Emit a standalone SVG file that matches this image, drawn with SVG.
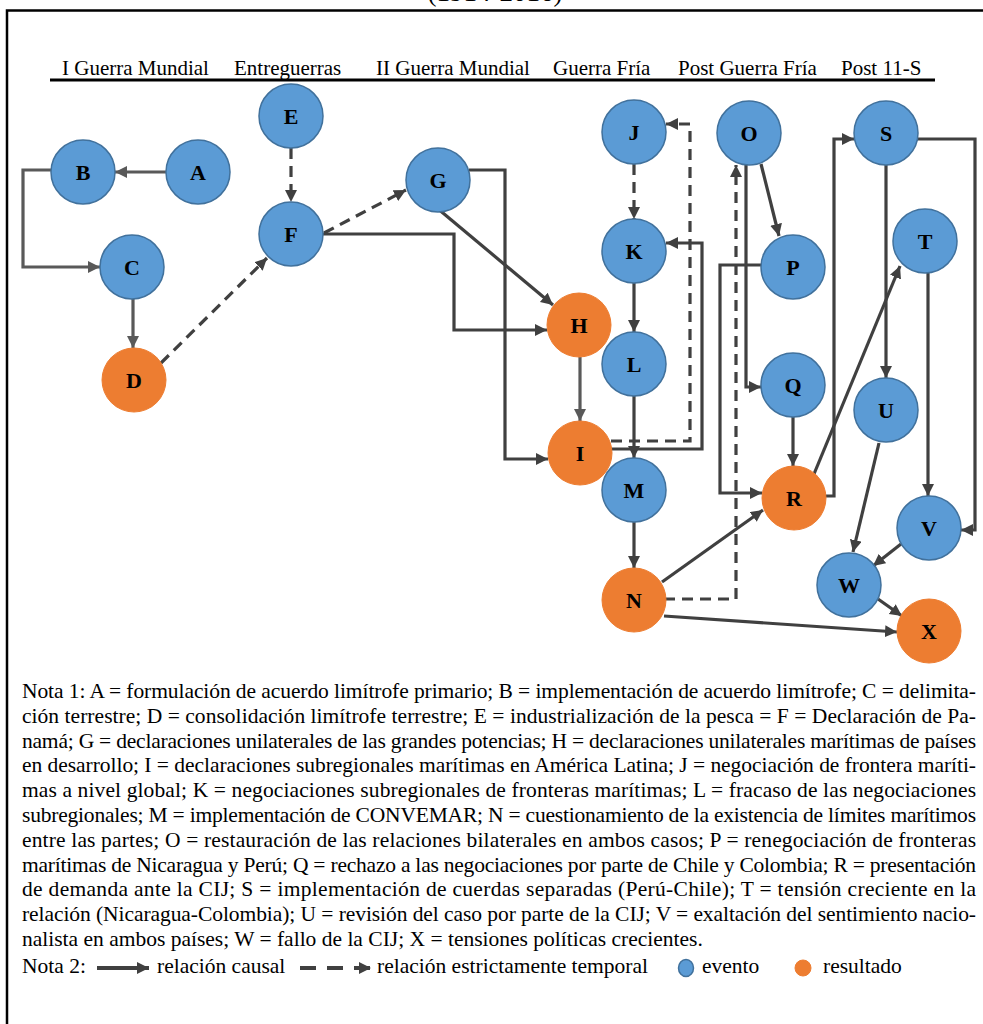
<svg xmlns="http://www.w3.org/2000/svg" width="983" height="1024" viewBox="0 0 983 1024">
<style>
.hdr{font-family:"Liberation Serif","Times New Roman",serif;font-size:21px;fill:#000}
.note{font-family:"Liberation Serif","Times New Roman",serif;font-size:21.5px;fill:#000}
.lbl{font-family:"Liberation Serif","Times New Roman",serif;font-size:22px;font-weight:bold;fill:#000;text-anchor:middle}
.ev{fill:#5B9BD5;stroke:#41719C;stroke-width:1.5}
.rs{fill:#ED7D31;stroke:#ED7D31;stroke-width:1}
.c{fill:none;stroke:#404040;stroke-width:3.2;marker-end:url(#ad)}
.cg{fill:none;stroke:#595959;stroke-width:3.2;marker-end:url(#ag)}
.d{fill:none;stroke:#404040;stroke-width:3.2;stroke-dasharray:11 7;marker-end:url(#ad)}
</style>
<defs>
<marker id="ad" markerUnits="userSpaceOnUse" markerWidth="13" markerHeight="13" refX="12" refY="6" orient="auto"><path d="M0,0 L12,6 L0,12 Z" fill="#404040"/></marker>
<marker id="ag" markerUnits="userSpaceOnUse" markerWidth="13" markerHeight="13" refX="12" refY="6" orient="auto"><path d="M0,0 L12,6 L0,12 Z" fill="#595959"/></marker>
</defs>
<rect x="0" y="0" width="983" height="1024" fill="#fff"/>
<text x="495" y="1" font-family="Liberation Serif,serif" font-size="27" text-anchor="middle">(1914-2016)</text>
<path d="M7,1026 V10.5 H985" fill="none" stroke="#000" stroke-width="2.5"/>
<g id="header">
<text class="hdr" x="62" y="75">I Guerra Mundial</text>
<text class="hdr" x="234" y="75">Entreguerras</text>
<text class="hdr" x="376" y="75">II Guerra Mundial</text>
<text class="hdr" x="553" y="75">Guerra Fría</text>
<text class="hdr" x="678" y="75">Post Guerra Fría</text>
<text class="hdr" x="841" y="75">Post 11-S</text>
<line x1="50" y1="80" x2="935" y2="80" stroke="#000" stroke-width="3"/>
</g>
<g id="connectors">
<path class="cg" d="M166,172 H115"/>
<path class="cg" d="M51,170 H23 V267 H100"/>
<path class="cg" d="M133,299 V348"/>
<path class="d" d="M161,363 L267,258"/>
<path class="d" d="M291,148 V202"/>
<path class="d" d="M324,233 L406,190"/>
<path class="c" d="M323,234 H454 V330 H547"/>
<path class="c" d="M437,208 L553,305"/>
<path class="c" d="M469,170 H505 V459 H548"/>
<path class="cg" d="M580,357 V421"/>
<path class="d" d="M634,164 V219"/>
<path class="c" d="M634,283 V332"/>
<path class="c" d="M634,396 V458"/>
<path class="c" d="M634,522 V568"/>
<path class="d" d="M611,441 H690 V124 H666"/>
<path class="c" d="M611,449 H702 V243 H666"/>
<path class="c" d="M662,582 L763,510"/>
<path class="d" d="M664,599 H736 V165"/>
<path class="c" d="M664,616 L897,632"/>
<path class="c" d="M761,164 L779,236"/>
<path class="c" d="M746,163 V387 H761"/>
<path class="c" d="M762,265 H720 V493 H762"/>
<path class="c" d="M793,417 V466"/>
<path class="c" d="M825,496 H834 V139 H854"/>
<path class="c" d="M814,474 L900,266"/>
<path class="c" d="M886,165 V378"/>
<path class="c" d="M917,139 H975 V530 H961"/>
<path class="c" d="M928,273 V496"/>
<path class="c" d="M879,443 L853,552"/>
<path class="c" d="M901,544 L873,566"/>
<path class="c" d="M878,599 L902,616"/>
</g>
<g id="A"><circle class="ev" cx="198" cy="172" r="32"/><text class="lbl" x="198" y="180">A</text></g>
<g id="B"><circle class="ev" cx="83" cy="172" r="32"/><text class="lbl" x="83" y="180">B</text></g>
<g id="C"><circle class="ev" cx="132" cy="267" r="32"/><text class="lbl" x="132" y="275">C</text></g>
<g id="D"><circle class="rs" cx="134" cy="380" r="32"/><text class="lbl" x="134" y="388">D</text></g>
<g id="E"><circle class="ev" cx="291" cy="116" r="32"/><text class="lbl" x="291" y="124">E</text></g>
<g id="F"><circle class="ev" cx="291" cy="234" r="32"/><text class="lbl" x="291" y="242">F</text></g>
<g id="G"><circle class="ev" cx="438" cy="180" r="32"/><text class="lbl" x="438" y="188">G</text></g>
<g id="H"><circle class="rs" cx="579" cy="325" r="32"/><text class="lbl" x="579" y="333">H</text></g>
<g id="I"><circle class="rs" cx="580" cy="453" r="32"/><text class="lbl" x="580" y="461">I</text></g>
<g id="J"><circle class="ev" cx="634" cy="132" r="32"/><text class="lbl" x="634" y="140">J</text></g>
<g id="K"><circle class="ev" cx="634" cy="251" r="32"/><text class="lbl" x="634" y="259">K</text></g>
<g id="L"><circle class="ev" cx="634" cy="364" r="32"/><text class="lbl" x="634" y="372">L</text></g>
<g id="M"><circle class="ev" cx="634" cy="490" r="32"/><text class="lbl" x="634" y="498">M</text></g>
<g id="N"><circle class="rs" cx="634" cy="600" r="32"/><text class="lbl" x="634" y="608">N</text></g>
<g id="O"><circle class="ev" cx="749" cy="133" r="32"/><text class="lbl" x="749" y="141">O</text></g>
<g id="P"><circle class="ev" cx="793" cy="267" r="32"/><text class="lbl" x="793" y="275">P</text></g>
<g id="Q"><circle class="ev" cx="793" cy="385" r="32"/><text class="lbl" x="793" y="393">Q</text></g>
<g id="R"><circle class="rs" cx="794" cy="498" r="32"/><text class="lbl" x="794" y="506">R</text></g>
<g id="S"><circle class="ev" cx="886" cy="133" r="32"/><text class="lbl" x="886" y="141">S</text></g>
<g id="T"><circle class="ev" cx="925" cy="241" r="32"/><text class="lbl" x="925" y="249">T</text></g>
<g id="U"><circle class="ev" cx="886" cy="410" r="32"/><text class="lbl" x="886" y="418">U</text></g>
<g id="V"><circle class="ev" cx="929" cy="528" r="32"/><text class="lbl" x="929" y="536">V</text></g>
<g id="W"><circle class="ev" cx="849" cy="585" r="32"/><text class="lbl" x="849" y="593">W</text></g>
<g id="X"><circle class="rs" cx="929" cy="631" r="32"/><text class="lbl" x="929" y="639">X</text></g>
<g id="notes">
<text class="note" x="22" y="698" textLength="954" lengthAdjust="spacing">Nota 1: A = formulación de acuerdo limítrofe primario; B = implementación de acuerdo limítrofe; C = delimita-</text>
<text class="note" x="22" y="722.8" textLength="954" lengthAdjust="spacing">ción terrestre; D = consolidación limítrofe terrestre; E = industrialización de la pesca = F = Declaración de Pa-</text>
<text class="note" x="22" y="747.6" textLength="954" lengthAdjust="spacing">namá; G = declaraciones unilaterales de las grandes potencias; H = declaraciones unilaterales marítimas de países</text>
<text class="note" x="22" y="772.4" textLength="954" lengthAdjust="spacing">en desarrollo; I = declaraciones subregionales marítimas en América Latina; J = negociación de frontera maríti-</text>
<text class="note" x="22" y="797.2" textLength="954" lengthAdjust="spacing">mas a nivel global; K = negociaciones subregionales de fronteras marítimas; L = fracaso de las negociaciones</text>
<text class="note" x="22" y="822" textLength="954" lengthAdjust="spacing">subregionales; M = implementación de CONVEMAR; N = cuestionamiento de la existencia de límites marítimos</text>
<text class="note" x="22" y="846.8" textLength="954" lengthAdjust="spacing">entre las partes; O = restauración de las relaciones bilaterales en ambos casos; P = renegociación de fronteras</text>
<text class="note" x="22" y="871.6" textLength="954" lengthAdjust="spacing">marítimas de Nicaragua y Perú; Q = rechazo a las negociaciones por parte de Chile y Colombia; R = presentación</text>
<text class="note" x="22" y="896.4" textLength="954" lengthAdjust="spacing">de demanda ante la CIJ; S = implementación de cuerdas separadas (Perú-Chile); T = tensión creciente en la</text>
<text class="note" x="22" y="921.2" textLength="954" lengthAdjust="spacing">relación (Nicaragua-Colombia); U = revisión del caso por parte de la CIJ; V = exaltación del sentimiento nacio-</text>
<text class="note" x="22" y="946">nalista en ambos países; W = fallo de la CIJ; X = tensiones políticas crecientes.</text>
</g>
<g id="legend">
<text class="note" x="22" y="973">Nota 2:</text>
<path d="M97,968 H149" fill="none" stroke="#404040" stroke-width="4" marker-end="url(#ad)"/>
<text class="note" x="157" y="973">relación causal</text>
<path d="M300,968 H371" fill="none" stroke="#404040" stroke-width="4" stroke-dasharray="16 11" marker-end="url(#ad)"/>
<text class="note" x="377" y="973">relación estrictamente temporal</text>
<ellipse class="ev" cx="686" cy="968" rx="7.5" ry="8.5"/>
<text class="note" x="702" y="973">evento</text>
<circle class="rs" cx="803" cy="968" r="8"/>
<text class="note" x="823" y="973">resultado</text>
</g>
</svg>
